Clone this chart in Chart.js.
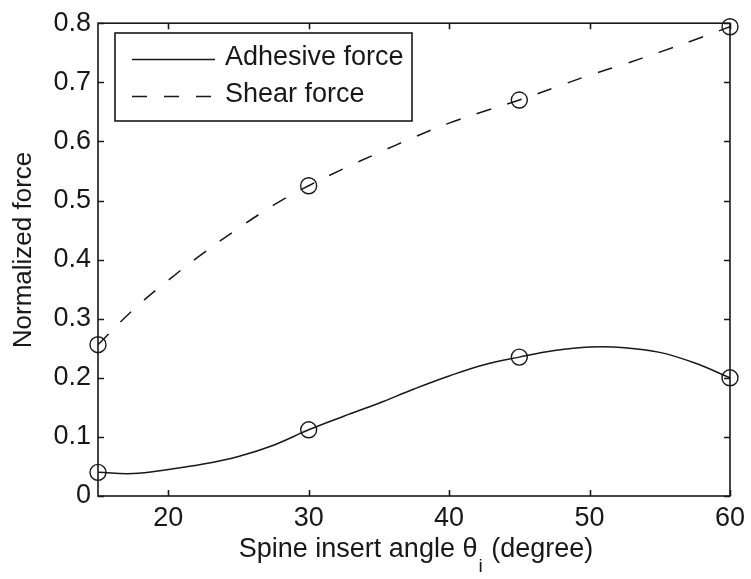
<!DOCTYPE html>
<html>
<head>
<meta charset="utf-8">
<script src="https://cdn.jsdelivr.net/npm/chart.js@4"></script>
<style>
html,body{margin:0;padding:0;background:#fff;}
#wrap{width:751px;height:579px;}
</style>
</head>
<body>
<div id="wrap"><canvas id="c" width="751" height="579"></canvas></div>
<script>
// ---- data ----
const angles = [15, 30, 45, 60];
const adhesiveForce = [0.040, 0.112, 0.235, 0.200];
const shearForce = [0.256, 0.525, 0.670, 0.794];

// fitted curves as drawn in the picture
const curveAngles = [15, 17.5, 20, 22.5, 25, 27.5, 30, 32.5, 35, 37.5, 40, 42.5, 45, 47.5, 50, 52.5, 55, 57.5, 60];
const adhesiveCurve = [0.040, 0.038, 0.045, 0.054, 0.067, 0.086, 0.112, 0.135, 0.157, 0.181, 0.203, 0.222, 0.235, 0.246, 0.252, 0.251, 0.243, 0.225, 0.200];
const shearCurve = [0.256, 0.315, 0.365, 0.411, 0.453, 0.492, 0.525, 0.554, 0.581, 0.607, 0.631, 0.651, 0.670, 0.691, 0.712, 0.731, 0.751, 0.772, 0.794];

const xTicks = [20, 30, 40, 50, 60];
const xTickLabels = ['20', '30', '40', '50', '60'];
const yTicks = [0, 0.1, 0.2, 0.3, 0.4, 0.5, 0.6, 0.7, 0.8];
const yTickLabels = ['0', '0.1', '0.2', '0.3', '0.4', '0.5', '0.6', '0.7', '0.8'];

const seriesNames = ['Adhesive force', 'Shear force'];
const yTitle = 'Normalized force';
const xTitleMain = 'Spine insert angle \u03B8';
const xTitleSub = 'i';
const xTitleTail = ' (degree)';

// ---- styling ----
const INK = '#181818';
const FONT = "'Liberation Sans', Arial, Helvetica, sans-serif";
const DASH = [15, 17];

function pts(xs, ys) { return xs.map((x, i) => ({x: x, y: ys[i]})); }

const matlabPlugin = {
  id: 'matlabDecor',
  afterDraw(chart) {
    const ctx = chart.ctx;
    const a = chart.chartArea;
    const xs = chart.scales.x, ys = chart.scales.y;
    ctx.save();
    ctx.strokeStyle = INK;
    ctx.lineWidth = 1.6;
    ctx.setLineDash([]);
    // frame
    ctx.strokeRect(a.left, a.top, a.right - a.left, a.bottom - a.top);
    // inward ticks on all four sides
    const tl = 6;
    ctx.beginPath();
    xs.ticks.forEach(t => {
      const px = Math.round(xs.getPixelForValue(t.value)) + 0.5;
      ctx.moveTo(px, a.bottom); ctx.lineTo(px, a.bottom - tl);
      ctx.moveTo(px, a.top); ctx.lineTo(px, a.top + tl);
    });
    ys.ticks.forEach(t => {
      const py = Math.round(ys.getPixelForValue(t.value)) + 0.5;
      ctx.moveTo(a.left, py); ctx.lineTo(a.left + tl, py);
      ctx.moveTo(a.right, py); ctx.lineTo(a.right - tl, py);
    });
    ctx.stroke();

    // y-axis title
    ctx.fillStyle = INK;
    ctx.save();
    ctx.translate(24, 250);
    ctx.rotate(-Math.PI / 2);
    ctx.font = '26px ' + FONT;
    ctx.textAlign = 'center';
    ctx.textBaseline = 'middle';
    ctx.fillText(yTitle, 0, 0);
    ctx.restore();

    // x-axis title with subscript
    ctx.textBaseline = 'alphabetic';
    ctx.textAlign = 'left';
    const mainFont = '27px ' + FONT, subFont = '19px ' + FONT;
    ctx.font = mainFont;
    const w1 = ctx.measureText(xTitleMain).width;
    const w3 = ctx.measureText(xTitleTail).width;
    ctx.font = subFont;
    const w2 = ctx.measureText(xTitleSub).width + 2;
    const total = w1 + w2 + w3;
    let x0 = (a.left + a.right) / 2 + 2 - total / 2;
    const base = 557;
    ctx.font = mainFont;
    ctx.fillText(xTitleMain, x0, base);
    ctx.font = subFont;
    ctx.fillText(xTitleSub, x0 + w1 + 1, base + 15);
    ctx.font = mainFont;
    ctx.fillText(xTitleTail, x0 + w1 + w2, base);

    // legend box
    const lb = {l: 115, t: 33, r: 412, b: 121};
    ctx.fillStyle = '#fff';
    ctx.fillRect(lb.l, lb.t, lb.r - lb.l, lb.b - lb.t);
    ctx.lineWidth = 1.6;
    ctx.strokeRect(lb.l, lb.t, lb.r - lb.l, lb.b - lb.t);
    const rows = [59, 96];
    chart.data.datasets.slice(0, 2).forEach((ds, i) => {
      ctx.save();
      ctx.strokeStyle = ds.borderColor;
      ctx.lineWidth = ds.borderWidth;
      ctx.setLineDash(ds.borderDash || []);
      ctx.beginPath();
      ctx.moveTo(132, rows[i] + 0.5);
      ctx.lineTo(215, rows[i] + 0.5);
      ctx.stroke();
      ctx.restore();
      ctx.fillStyle = INK;
      ctx.font = '27px ' + FONT;
      ctx.textBaseline = 'middle';
      ctx.fillText(ds.label, 225, rows[i] - 1);
    });
    ctx.restore();
  }
};

new Chart(document.getElementById('c'), {
  type: 'line',
  data: {
    datasets: [
      {
        label: seriesNames[0],
        data: pts(curveAngles, adhesiveCurve),
        borderColor: INK, borderWidth: 1.5, pointRadius: 0,
        tension: 0.4, fill: false
      },
      {
        label: seriesNames[1],
        data: pts(curveAngles, shearCurve),
        borderColor: INK, borderWidth: 1.5, borderDash: DASH, pointRadius: 0,
        tension: 0.4, fill: false
      },
      {
        label: seriesNames[0] + ' (data)',
        data: pts(angles, adhesiveForce),
        showLine: false, pointStyle: 'circle', pointRadius: 8,
        pointBorderWidth: 1.4, pointBorderColor: INK,
        pointBackgroundColor: 'rgba(0,0,0,0)', clip: false
      },
      {
        label: seriesNames[1] + ' (data)',
        data: pts(angles, shearForce),
        showLine: false, pointStyle: 'circle', pointRadius: 8,
        pointBorderWidth: 1.4, pointBorderColor: INK,
        pointBackgroundColor: 'rgba(0,0,0,0)', clip: false
      }
    ]
  },
  options: {
    responsive: false,
    animation: false,
    events: [],
    devicePixelRatio: 1,
    layout: {padding: {left: 0, right: 18, top: 19, bottom: 0}},
    plugins: {legend: {display: false}, tooltip: {enabled: false}},
    scales: {
      x: {
        type: 'linear', min: 15, max: 60,
        grid: {display: false, drawTicks: false},
        border: {display: false},
        afterBuildTicks: s => { s.ticks = xTicks.map(v => ({value: v})); },
        afterFit: s => { s.height = 83; },
        ticks: {
          padding: 6, color: INK, maxRotation: 0, autoSkip: false,
          font: {family: FONT, size: 27},
          callback: v => { const i = xTicks.indexOf(v); return i >= 0 ? xTickLabels[i] : ''; }
        }
      },
      y: {
        type: 'linear', min: 0, max: 0.8,
        grid: {display: false, drawTicks: false},
        border: {display: false},
        afterBuildTicks: s => { s.ticks = yTicks.map(v => ({value: v})); },
        afterFit: s => { s.width = 98; },
        title: {display: false, text: yTitle},
        ticks: {
          padding: 7, color: INK, autoSkip: false,
          font: {family: FONT, size: 27},
          callback: v => { const i = yTicks.findIndex(t => Math.abs(t - v) < 1e-9); return i >= 0 ? yTickLabels[i] : ''; }
        }
      }
    }
  },
  plugins: [matlabPlugin]
});
</script>
</body>
</html>
